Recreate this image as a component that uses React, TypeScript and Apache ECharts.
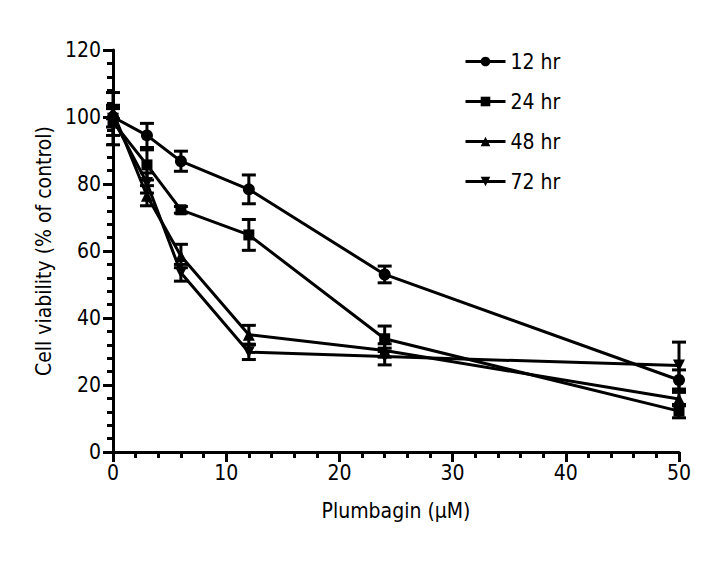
import React, { useEffect, useRef } from "react";
import * as echarts from "echarts";

const concentrations = [0, 3, 6, 12, 24, 50];
const seriesNames = ["12 hr", "24 hr", "48 hr", "72 hr"];
const hr12 = [100, 94.5, 86.8, 78.4, 53.0, 21.5];
const err12 = [3, 3.6, 3, 4.3, 2.5, 3];
const hr24 = [98.5, 85.7, 72.3, 64.8, 33.8, 12.2];
const err24 = [4, 4.5, 1, 4.6, 3.8, 2];
const hr48 = [101.5, 76.5, 58.5, 35.0, 30.3, 15.8];
const err48 = [2, 3, 3.5, 2.8, 2, 2];
const hr72 = [99.5, 80.3, 53.5, 29.8, 28.5, 25.8];
const err72 = [7.8, 3, 2.5, 2.2, 2.5, 7];

const FONT = "'Liberation Sans Narrow', 'DejaVu Sans Condensed', sans-serif";
const symbols = ["circle", "rect", "triangle", "path://M0,0 L10,0 L5,9 Z"];
const symbolSizes = [12, 11, 12, 12];

export default function App() {
  const ref = useRef<HTMLDivElement>(null);
  useEffect(() => {
    if (!ref.current) return;
    const chart = echarts.init(ref.current, null, { renderer: "svg" });
    const means = [hr12, hr24, hr48, hr72];
    const errs = [err12, err24, err48, err72];

    const lineSeries = means.map((m, i) => ({
      name: seriesNames[i],
      type: "line",
      data: concentrations.map((c, j) => [c, m[j]]),
      symbol: symbols[i],
      symbolSize: symbolSizes[i],
      showAllSymbol: true,
      lineStyle: { color: "#000", width: 3 },
      itemStyle: { color: "#000" },
      z: 3,
    }));

    const errSeries = means.map((m, i) => ({
      name: seriesNames[i] + " err",
      type: "custom",
      data: concentrations.map((c, j) => [c, m[j], errs[i][j]]),
      encode: { x: 0, y: 1 },
      z: 4,
      renderItem: (params: any, api: any) => {
        const x = api.value(0);
        const y = api.value(1);
        const e = api.value(2);
        const top = api.coord([x, y + e]);
        const bot = api.coord([x, y - e]);
        const hw = 7;
        const style = { stroke: "#000", lineWidth: 3 };
        return {
          type: "group",
          children: [
            { type: "line", shape: { x1: top[0], y1: top[1], x2: bot[0], y2: bot[1] }, style },
            { type: "line", shape: { x1: top[0] - hw, y1: top[1], x2: top[0] + hw, y2: top[1] }, style },
            { type: "line", shape: { x1: bot[0] - hw, y1: bot[1], x2: bot[0] + hw, y2: bot[1] }, style },
          ],
        };
      },
    }));

    chart.setOption({
      animation: false,
      backgroundColor: "#fff",
      textStyle: { fontFamily: FONT },
      grid: { left: 105, right: 41, top: 42, bottom: 113, containLabel: false },
      legend: {
        data: seriesNames,
        orient: "vertical",
        left: 451,
        top: 38,
        itemWidth: 40,
        itemHeight: 12,
        itemGap: 19,
        lineStyle: { width: 3 },
        textStyle: { fontFamily: FONT, fontSize: 21, color: "#000" },
      },
      xAxis: {
        type: "value",
        min: 0,
        max: 50,
        interval: 10,
        name: "Plumbagin (\u03bcM)",
        nameLocation: "middle",
        nameGap: 48,
        nameTextStyle: { fontFamily: FONT, fontSize: 21, color: "#000" },
        axisLine: { onZero: false, lineStyle: { color: "#000", width: 3 } },
        axisTick: { show: true, length: 10, lineStyle: { color: "#000", width: 3 } },
        minorTick: { show: true, splitNumber: 5, length: 6, lineStyle: { color: "#000", width: 3 } },
        axisLabel: { fontFamily: FONT, fontSize: 21, color: "#000", margin: 10 },
        splitLine: { show: false },
      },
      yAxis: {
        type: "value",
        min: 0,
        max: 120,
        interval: 20,
        name: "Cell viability (% of control)",
        nameLocation: "middle",
        nameGap: 50,
        nameTextStyle: { fontFamily: FONT, fontSize: 21, color: "#000" },
        axisLine: { onZero: false, lineStyle: { color: "#000", width: 3 } },
        axisTick: { show: true, length: 10, lineStyle: { color: "#000", width: 3 } },
        minorTick: { show: true, splitNumber: 5, length: 6, lineStyle: { color: "#000", width: 3 } },
        axisLabel: { fontFamily: FONT, fontSize: 21, color: "#000", margin: 12 },
        splitLine: { show: false },
      },
      series: [...lineSeries, ...errSeries],
    });
    return () => chart.dispose();
  }, []);
  return <div ref={ref} style={{ width: 712, height: 557 }} />;
}
